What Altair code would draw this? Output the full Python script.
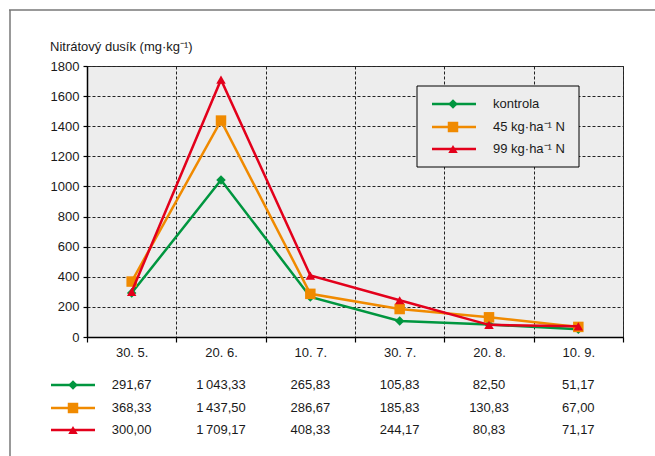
import altair as alt
import pandas as pd

dates = ["30. 5.", "20. 6.", "10. 7.", "30. 7.", "20. 8.", "10. 9."]
series = ["kontrola", "45 kg·ha⁻¹ N", "99 kg·ha⁻¹ N"]
kontrola = [291.67, 1043.33, 265.83, 105.83, 82.50, 51.17]
n45 = [368.33, 1437.50, 286.67, 185.83, 130.83, 67.00]
n99 = [300.00, 1709.17, 408.33, 244.17, 80.83, 71.17]
y_ticks = [0, 200, 400, 600, 800, 1000, 1200, 1400, 1600, 1800]
y_title = "Nitrátový dusík (mg·kg⁻¹)"

values = [kontrola, n45, n99]
colors = ["#00963f", "#f08a00", "#e3001b"]
shapes = ["diamond", "square", "triangle-up"]
sizes = [90, 110, 90]

FONT = "Liberation Sans"
FS = 13
TC = "#1a1a1a"


def fmt(v):
    s = f"{v:,.2f}"
    return s.replace(",", "\u2009").replace(".", ",")


W, H = 536, 271
L, T = 87, 66

xscale = alt.Scale(domain=dates, paddingInner=0, paddingOuter=0)
yscale = alt.Scale(domain=[0, 1800], nice=False)

xaxis = alt.Axis(title=None, labelAngle=0, tickBand="extent", grid=True,
                 gridDash=[3, 2], gridColor="#222", gridOpacity=1, gridWidth=1,
                 tickSize=5, tickColor="#000", tickWidth=1.2,
                 domainColor="#000", domainWidth=1.5,
                 labelFont=FONT, labelFontSize=FS, labelColor=TC, labelPadding=4)
yaxis = alt.Axis(title=None, values=y_ticks, format="d", grid=True,
                 gridDash=[3, 2], gridColor="#222", gridOpacity=1, gridWidth=1,
                 tickSize=4, tickColor="#000", tickWidth=1.2,
                 domainColor="#000", domainWidth=1.5,
                 labelFont=FONT, labelFontSize=FS, labelColor=TC, labelPadding=4)

one = pd.DataFrame({"a": [0]})
layers = []

# outer frame
layers.append(alt.Chart(one).mark_rule(color="#777", strokeWidth=1.5).encode(
    x=alt.value(-78), x2=alt.value(655 - L), y=alt.value(-56)))
layers.append(alt.Chart(one).mark_rule(color="#777", strokeWidth=1.5).encode(
    x=alt.value(-77), y=alt.value(-56), y2=alt.value(456 - T)))

# axis title
layers.append(alt.Chart(one).mark_text(align="left", baseline="alphabetic", font=FONT,
                                       fontSize=FS, color=TC, text=y_title).encode(
    x=alt.value(-37), y=alt.value(-15)))

# series
for i, s in enumerate(series):
    df = pd.DataFrame({"date": dates, "value": values[i]})
    enc = dict(
        x=alt.X("date:N", sort=dates, scale=xscale, axis=xaxis),
        y=alt.Y("value:Q", scale=yscale, axis=yaxis),
    )
    layers.append(alt.Chart(df).mark_line(color=colors[i], strokeWidth=2.5).encode(**enc))
    layers.append(alt.Chart(df).mark_point(filled=True, shape=shapes[i], size=sizes[i],
                                           color=colors[i], opacity=1).encode(**enc))

# legend box
layers.append(alt.Chart(one).mark_rect(fill="#ededed", stroke="#000", strokeWidth=1).encode(
    x=alt.value(330), x2=alt.value(492), y=alt.value(20), y2=alt.value(101)))
leg_y = [38, 61, 83]
for i, s in enumerate(series):
    layers.append(alt.Chart(one).mark_rule(color=colors[i], strokeWidth=2.5).encode(
        x=alt.value(345), x2=alt.value(389), y=alt.value(leg_y[i])))
    layers.append(alt.Chart(one).mark_point(filled=True, shape=shapes[i], size=sizes[i],
                                            color=colors[i], opacity=1).encode(
        x=alt.value(366), y=alt.value(leg_y[i])))
    layers.append(alt.Chart(one).mark_text(align="left", baseline="middle", font=FONT,
                                           fontSize=FS, color=TC, text=s).encode(
        x=alt.value(406), y=alt.value(leg_y[i])))

# data table
tab_y = [319, 342, 364]
for i, s in enumerate(series):
    layers.append(alt.Chart(one).mark_rule(color=colors[i], strokeWidth=2.5).encode(
        x=alt.value(-36), x2=alt.value(8), y=alt.value(tab_y[i])))
    layers.append(alt.Chart(one).mark_point(filled=True, shape=shapes[i], size=sizes[i],
                                            color=colors[i], opacity=1).encode(
        x=alt.value(-14), y=alt.value(tab_y[i])))
    tdf = pd.DataFrame({"date": dates, "label": [fmt(v) for v in values[i]]})
    layers.append(alt.Chart(tdf).mark_text(align="center", baseline="middle", font=FONT,
                                           fontSize=FS, color=TC).encode(
        x=alt.X("date:N", sort=dates, scale=xscale, axis=xaxis),
        y=alt.value(tab_y[i]), text="label:N"))

chart = alt.layer(*layers).properties(
    width=W, height=H,
    autosize=alt.AutoSizeParams(type="none"),
    padding={"left": L, "top": T, "right": 655 - L - W, "bottom": 456 - T - H},
    background="white",
).configure_view(fill="#ededed", stroke="#333", strokeWidth=1)

chart.save("out.html", embed_options={"renderer": "svg", "actions": False})
